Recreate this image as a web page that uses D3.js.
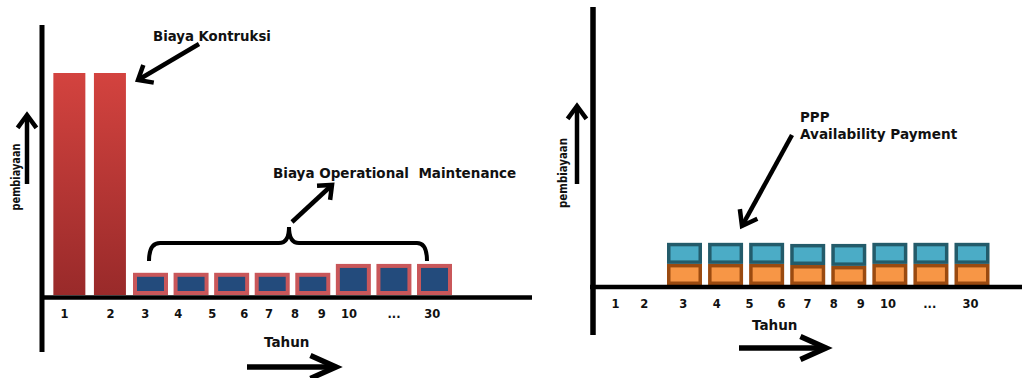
<!DOCTYPE html>
<html><head><meta charset="utf-8">
<script src="https://cdn.jsdelivr.net/npm/d3@7"></script>
<style>
html,body{margin:0;padding:0;background:#fff;}
svg{display:block;}
text{font-family:"DejaVu Sans",Verdana,sans-serif;font-weight:bold;fill:#111;}
</style></head><body>
<svg id="chart" width="1024" height="378"></svg>
<script>
// Year labels along both horizontal axes
const yearLabels = ["1","2","3","4","5","6","7","8","9","10","...","30"];
// Where each year label sits, in bar-slot units
const yearLabelSlotsLeft  = [0.87,2.0,2.86,3.67,4.51,5.30,5.91,6.55,7.21,7.88,8.99,9.93];
const yearLabelSlotsRight = [1.31,2.01,2.96,3.77,4.57,5.35,5.98,6.62,7.28,7.94,8.96,9.95];

// Conventional scheme: construction years, then operation & maintenance years
const constructionSlots = [1,2];
const constructionCost  = [100,100];
const omSlots = [3,4,5,6,7,8,9,10];
const omCost  = [10,10,10,10,10,14,14,14];

// PPP scheme: availability payment in two stacked components
const paymentSlots = [3,4,5,6,7,8,9,10];
const paymentLower = [9.5,9.5,9.5,9.0,8.6,9.5,9.5,9.5];
const paymentUpper = [9.5,9.5,9.5,9.5,9.9,9.5,9.5,9.5];

const svg = d3.select("#chart");

const defs = svg.append("defs");
const grad = defs.append("linearGradient").attr("id","redGrad")
  .attr("x1",0).attr("y1",0).attr("x2",0).attr("y2",1);
grad.append("stop").attr("offset","0%").attr("stop-color","#d3433f");
grad.append("stop").attr("offset","100%").attr("stop-color","#992a2a");

// Scales
const xL = d3.scaleLinear().domain([3,10]).range([150.5,434.5]);
const yL = d3.scaleLinear().domain([0,100]).range([295,73]);
const xR = d3.scaleLinear().domain([3,10]).range([684.5,972]);
const yR = d3.scaleLinear().domain([0,100]).range([285,63]);

// Arrow with an open chevron head
function arrow(g, x1, y1, x2, y2, opt) {
  const o = Object.assign({w:4.5, head:15, ang:38}, opt||{});
  const a = Math.atan2(y2-y1, x2-x1);
  const t = o.ang*Math.PI/180;
  const p1 = [x2 - o.head*Math.cos(a-t), y2 - o.head*Math.sin(a-t)];
  const p2 = [x2 - o.head*Math.cos(a+t), y2 - o.head*Math.sin(a+t)];
  g.append("line").attr("x1",x1).attr("y1",y1).attr("x2",x2).attr("y2",y2)
    .attr("stroke","#000").attr("stroke-width",o.w);
  g.append("path").attr("d",`M${p1[0]},${p1[1]}L${x2},${y2}L${p2[0]},${p2[1]}`)
    .attr("fill","none").attr("stroke","#000").attr("stroke-width",o.w)
    .attr("stroke-linejoin","miter").attr("stroke-linecap","butt");
}

// Bold caption
function caption(g, x, y, str, size) {
  return g.append("text").attr("x",x).attr("y",y).attr("font-size",size||13.4).text(str);
}

// ---------- Left panel ----------
const left = svg.append("g");

left.selectAll("rect.build").data(constructionSlots).join("rect")
  .attr("class","build")
  .attr("x", d => xL(d) - 16)
  .attr("width", 32)
  .attr("y", (d,i) => yL(constructionCost[i]))
  .attr("height", (d,i) => yL(0) - yL(constructionCost[i]))
  .attr("fill","url(#redGrad)");

left.selectAll("rect.om").data(omSlots).join("rect")
  .attr("class","om")
  .attr("x", d => xL(d) - 17.5 + 2)
  .attr("width", 31)
  .attr("y", (d,i) => yL(omCost[i]) + 2)
  .attr("height", (d,i) => yL(0) - yL(omCost[i]) - 4)
  .attr("fill","#234b7c").attr("stroke","#c9575a").attr("stroke-width",4);

// axes
left.append("line").attr("x1",42).attr("y1",25).attr("x2",42).attr("y2",352)
  .attr("stroke","#000").attr("stroke-width",5);
left.append("line").attr("x1",40).attr("y1",297.5).attr("x2",532).attr("y2",297.5)
  .attr("stroke","#000").attr("stroke-width",4.5);

const axL = left.append("g").attr("transform",`translate(0,${yL(0)})`)
  .call(d3.axisBottom(xL).tickValues(yearLabelSlotsLeft)
    .tickFormat((d,i) => yearLabels[i]).tickSize(0).tickPadding(15));
axL.select(".domain").remove();
axL.selectAll("text").attr("font-family","DejaVu Sans, Verdana, sans-serif")
  .attr("font-weight","bold").attr("font-size",11.5).attr("fill","#222");

// brace over the O&M years
left.append("path")
  .attr("d","M149,261 Q149,243 160,243 L279,243 Q289,243 289,227 Q289,243 299,243 L417,243 Q427,243 427,261")
  .attr("fill","none").attr("stroke","#000").attr("stroke-width",4);

caption(left, 153, 40.5, "Biaya Kontruksi", 13.3);
arrow(left, 199, 44, 138, 80, {w:4.5, head:16, ang:40});

caption(left, 273, 177.5, "Biaya Operational  Maintenance", 13.5).attr("xml:space","preserve");
arrow(left, 292, 222, 332, 185, {w:4.5, head:15, ang:40});

left.append("text")
  .attr("transform","translate(20,177) rotate(-90)")
  .attr("text-anchor","middle")
  .attr("font-family","Liberation Sans Narrow, Arial Narrow, Liberation Sans, sans-serif")
  .attr("font-size",12.5).attr("textLength",67).attr("lengthAdjust","spacingAndGlyphs")
  .text("pembiayaan");
arrow(left, 27, 184, 27, 115, {w:4.5, head:16, ang:36});

caption(left, 264, 346.5, "Tahun", 13.5);
arrow(left, 247, 367, 336, 367, {w:5.5, head:28, ang:24});

// ---------- Right panel ----------
const right = svg.append("g");

right.selectAll("rect.low").data(paymentSlots).join("rect")
  .attr("class","low")
  .attr("x", d => xR(d) - 17.5 + 1.75)
  .attr("width", 31.5)
  .attr("y", (d,i) => yR(paymentLower[i]) + 1.75)
  .attr("height", (d,i) => yR(0) - yR(paymentLower[i]) - 3.5)
  .attr("fill","#f79646").attr("stroke","#9a4a10").attr("stroke-width",3.5);

right.selectAll("rect.up").data(paymentSlots).join("rect")
  .attr("class","up")
  .attr("x", d => xR(d) - 17.5 + 1.75)
  .attr("width", 31.5)
  .attr("y", (d,i) => yR(paymentLower[i] + paymentUpper[i]) + 1.75)
  .attr("height", (d,i) => yR(paymentLower[i]) - yR(paymentLower[i] + paymentUpper[i]) - 3.5)
  .attr("fill","#4bacc6").attr("stroke","#235b6a").attr("stroke-width",3.5);

right.append("line").attr("x1",593).attr("y1",7).attr("x2",593).attr("y2",335)
  .attr("stroke","#000").attr("stroke-width",5.5);
right.append("line").attr("x1",590).attr("y1",287).attr("x2",1022).attr("y2",287)
  .attr("stroke","#000").attr("stroke-width",4.5);

const axR = right.append("g").attr("transform",`translate(0,${yR(0)})`)
  .call(d3.axisBottom(xR).tickValues(yearLabelSlotsRight)
    .tickFormat((d,i) => yearLabels[i]).tickSize(0).tickPadding(15));
axR.select(".domain").remove();
axR.selectAll("text").attr("font-family","DejaVu Sans, Verdana, sans-serif")
  .attr("font-weight","bold").attr("font-size",11.5).attr("fill","#222");

caption(right, 800, 121.5, "PPP", 13.4);
caption(right, 800, 139, "Availability Payment", 13.6);
arrow(right, 792, 135, 742, 226, {w:4.5, head:17, ang:36});

right.append("text")
  .attr("transform","translate(567,173) rotate(-90)")
  .attr("text-anchor","middle")
  .attr("font-family","Liberation Sans Narrow, Arial Narrow, Liberation Sans, sans-serif")
  .attr("font-size",12.5).attr("textLength",70).attr("lengthAdjust","spacingAndGlyphs")
  .text("pembiayaan");
arrow(right, 577, 184, 577, 106, {w:4.5, head:16, ang:36});

caption(right, 752, 330, "Tahun", 13.5);
arrow(right, 739, 348, 826, 348, {w:5.5, head:28, ang:24});
</script>
</body></html>
